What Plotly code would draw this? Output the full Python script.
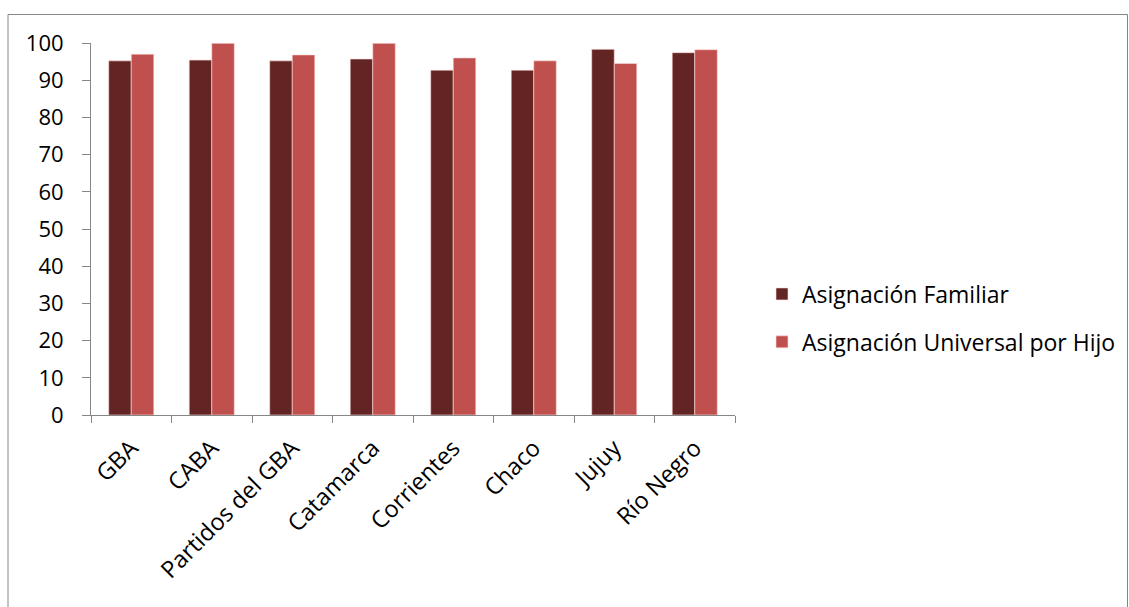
import plotly.graph_objects as go

categories = ["GBA", "CABA", "Partidos del GBA", "Catamarca", "Corrientes", "Chaco", "Jujuy", "Río Negro"]
asig_familiar = [95.2, 95.4, 95.2, 95.7, 92.7, 92.7, 98.3, 97.4]
asig_universal = [97.0, 99.9, 96.8, 99.9, 96.0, 95.2, 94.5, 98.2]
y_ticks = [0, 10, 20, 30, 40, 50, 60, 70, 80, 90, 100]

FONT = "Open Sans"
fig = go.Figure()
fig.add_trace(go.Bar(x=categories, y=asig_familiar, name="Asignación Familiar",
                     marker=dict(color="#632523", line=dict(color="rgba(255,220,220,0.6)", width=1)),
                     legendgroup="a"))
fig.add_trace(go.Bar(x=categories, y=asig_universal, name="Asignación Universal por Hijo",
                     marker=dict(color="#C0504D", line=dict(color="rgba(255,220,220,0.6)", width=1)),
                     legendgroup="b"))

L, R, T, B = 91, 735, 43, 415
W, H = 1129, 607
pw, ph = R - L, B - T

def px(x):
    return (x - L) / pw

def py(y):
    return (B - y) / ph

fig.update_layout(
    width=W, height=H,
    margin=dict(l=L, r=W - R, t=T, b=H - B, autoexpand=False),
    paper_bgcolor="white", plot_bgcolor="white",
    barmode="group", bargap=0.44, bargroupgap=0,
    font=dict(family=FONT, size=22, color="black"),
    showlegend=True,
    legend=dict(x=px(762), y=py(318), xanchor="left", yanchor="middle",
                traceorder="grouped", tracegroupgap=15,
                font=dict(family=FONT, size=23, color="black")),
    xaxis=dict(showline=True, linecolor="#868686", linewidth=1,
               ticks="outside", ticklen=7, tickcolor="#868686", tickson="boundaries",
               tickangle=-45, showgrid=False, tickfont=dict(size=23.5),
               ticklabelstandoff=9, automargin=False),
    yaxis=dict(range=[0, 100], tickvals=y_ticks, showline=True, linecolor="#868686", linewidth=1,
               ticks="outside", ticklen=8, tickcolor="#868686", showgrid=False, zeroline=False,
               ticklabelstandoff=14, tickfont=dict(size=22), automargin=False),
    shapes=[dict(type="rect", xref="paper", yref="paper",
                 x0=px(8), x1=px(1127.5), y0=py(14.5), y1=py(620),
                 line=dict(color="#868686", width=1), fillcolor="rgba(0,0,0,0)", layer="below")],
)

fig.write_html("out.html")
